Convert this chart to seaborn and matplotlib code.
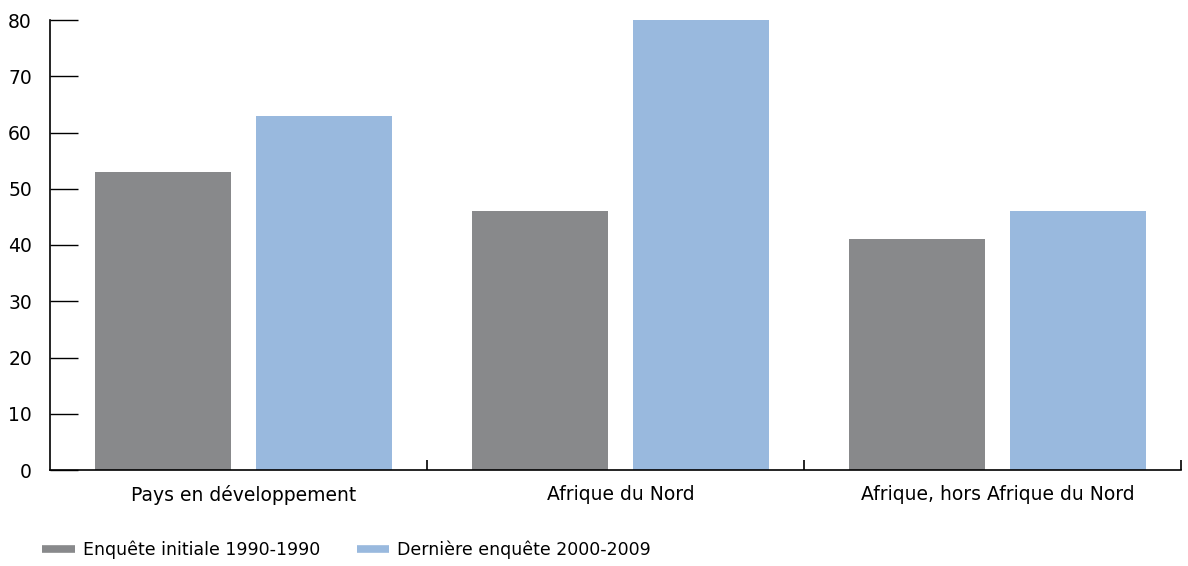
import matplotlib
matplotlib.use("Agg")
import matplotlib.pyplot as plt
from matplotlib.lines import Line2D
import pandas as pd
import seaborn as sns

categories = ["Pays en développement", "Afrique du Nord", "Afrique, hors Afrique du Nord"]
series_names = ["Enquête initiale 1990-1990", "Dernière enquête 2000-2009"]
initial_values = [53, 46, 41]
latest_values = [63, 80, 46]
y_ticks = [0, 10, 20, 30, 40, 50, 60, 70, 80]
colors = ["#88898b", "#99b9de"]

df = pd.DataFrame({
    "region": categories * 2,
    "survey": [series_names[0]] * 3 + [series_names[1]] * 3,
    "value": initial_values + latest_values,
})

sns.set_style("white")
plt.rcParams["font.family"] = ["DejaVu Sans"]
plt.rcParams["text.color"] = "black"
plt.rcParams["xtick.labelcolor"] = "black"
plt.rcParams["ytick.labelcolor"] = "black"

fig = plt.figure(figsize=(11.88, 5.66), dpi=100)
ax = fig.add_axes([50 / 1188, 96 / 566, 1131 / 1188, 450 / 566])

sns.barplot(data=df, x="region", y="value", hue="survey", order=categories,
            hue_order=series_names, palette=colors, width=0.857, gap=0.158,
            saturation=1, linewidth=0, legend=False, ax=ax)

# the group boundaries sit a little left of the bar groups in the original
shift = 0.013
ax.set_xlim(-0.5 - shift, 2.5 - shift)
ax.set_ylim(0, 80)
ax.set_yticks(y_ticks)
ax.set_xlabel("")
ax.set_ylabel("")

for side in ["top", "right"]:
    ax.spines[side].set_visible(False)
for side in ["left", "bottom"]:
    ax.spines[side].set_color("black")
    ax.spines[side].set_linewidth(1.2)

ax.tick_params(axis="y", direction="in", length=20, width=1, color="black",
               pad=13, labelsize=13.5, left=True)
ax.tick_params(axis="x", which="major", length=0, pad=11, labelsize=13.5)
ax.set_xticks([0.5 - shift, 1.5 - shift, 2.5 - shift], minor=True)
ax.tick_params(axis="x", which="minor", direction="in", length=7, width=1.2,
               color="black", bottom=True)

handles = [Line2D([], [], color=c, lw=5.5, solid_capstyle="butt") for c in colors]
fig.legend(handles, series_names, loc="center left",
           bbox_to_anchor=(42 / 1188, 1 - 550 / 566), borderaxespad=0, borderpad=0,
           ncol=2, frameon=False, fontsize=12.5, handlelength=1.9,
           handletextpad=0.45, columnspacing=2.1, labelcolor="black")

fig.savefig("out.png", dpi=100)
